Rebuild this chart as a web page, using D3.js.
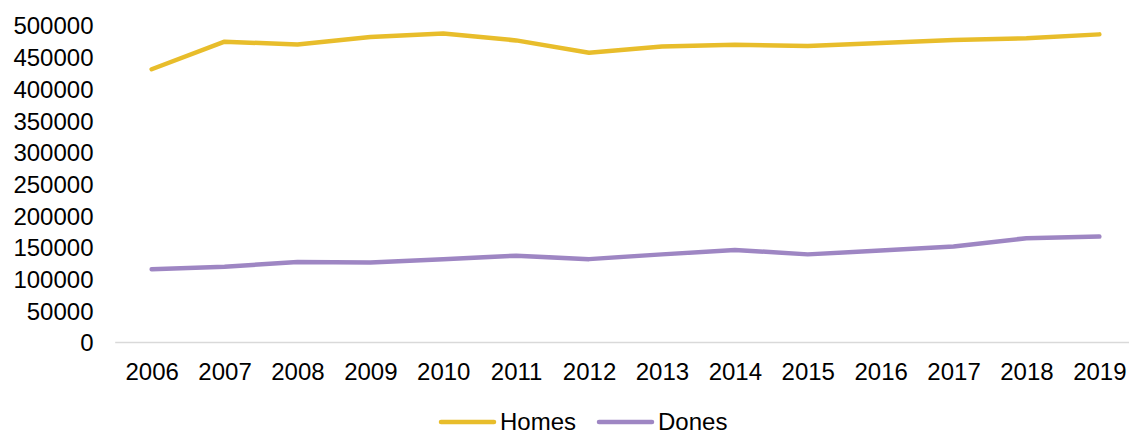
<!DOCTYPE html>
<html>
<head>
<meta charset="utf-8">
<script src="https://cdn.jsdelivr.net/npm/d3@7"></script>
<style>
  html, body { margin: 0; padding: 0; background: #fff; }
  svg { display: block; font-family: "Liberation Sans", Arial, sans-serif; }
</style>
</head>
<body>
<svg id="chart" width="1129" height="432"></svg>
<script>
const years = ["2006","2007","2008","2009","2010","2011","2012","2013","2014","2015","2016","2017","2018","2019"];
const homes = [431000, 474500, 470000, 482000, 487500, 476500, 457000, 467000, 469500, 467500, 472500, 477000, 480000, 486000];
const dones = [115500, 119500, 127000, 126000, 131500, 137000, 131500, 139000, 146000, 139000, 145000, 151500, 164500, 167000];
const yTicks = [0, 50000, 100000, 150000, 200000, 250000, 300000, 350000, 400000, 450000, 500000];
const seriesNames = ["Homes", "Dones"];
const seriesColors = ["#E8BD2B", "#9E86C3"];

const svg = d3.select("#chart");
const x = d3.scalePoint().domain(years).range([115.2, 1135.8]).padding(0.5);
const y = d3.scaleLinear().domain([0, 500000]).range([342.5, 25.5]);

// y tick labels
const yAxis = d3.axisLeft(y).tickValues(yTicks).tickSize(0).tickPadding(0).tickFormat(d3.format("d"));
const gy = svg.append("g").attr("transform", "translate(93.5,0)").call(yAxis);
gy.select(".domain").remove();
gy.selectAll("text").attr("font-size", 24).attr("fill", "#000").attr("font-family", "Liberation Sans, Arial, sans-serif").attr("dy", "0.35em");

// x axis
const xAxis = d3.axisBottom(x).tickSize(0).tickPadding(0);
const gx = svg.append("g").attr("transform", `translate(0,${y(0)})`).call(xAxis);
gx.select(".domain").attr("stroke", "#d9d9d9").attr("stroke-width", 1.5).attr("d", `M${x.range()[0]},0H${x.range()[1]}`);
gx.selectAll("text").attr("font-size", 24).attr("fill", "#000").attr("font-family", "Liberation Sans, Arial, sans-serif").attr("dy", null).attr("y", 37);

const line = d3.line().x((d, i) => x(years[i])).y(d => y(d));
[homes, dones].forEach((s, k) => {
  svg.append("path").datum(s).attr("d", line).attr("fill", "none")
    .attr("stroke", seriesColors[k]).attr("stroke-width", 4.5)
    .attr("stroke-linejoin", "round").attr("stroke-linecap", "round");
});

// legend
const legendX = [441, 599];
seriesNames.forEach((n, k) => {
  const g = svg.append("g").attr("transform", `translate(${legendX[k]},422)`);
  g.append("line").attr("x1", 0).attr("x2", 53).attr("y1", 0).attr("y2", 0)
    .attr("stroke", seriesColors[k]).attr("stroke-width", 4.5).attr("stroke-linecap", "round");
  g.append("text").attr("x", 59).attr("y", 0).attr("dy", "0.35em").attr("font-size", 24).attr("fill", "#000").text(n);
});
</script>
</body>
</html>
